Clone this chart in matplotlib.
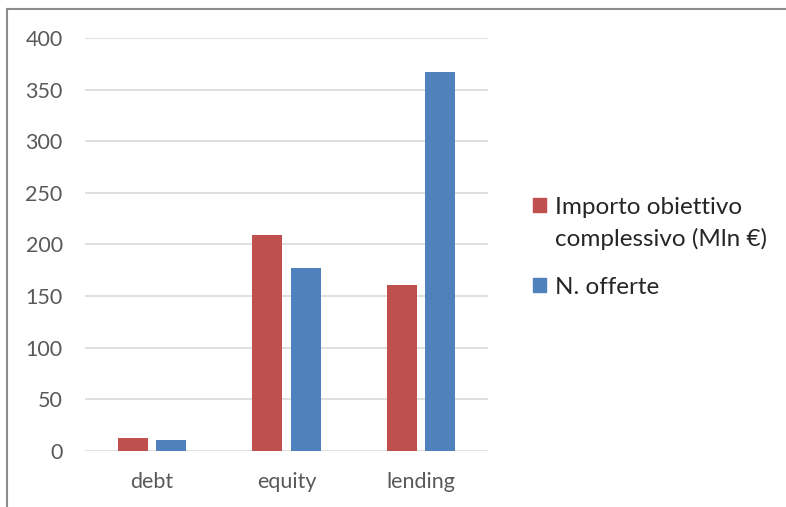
import numpy as np
import matplotlib.pyplot as plt
from matplotlib.lines import Line2D
from matplotlib.patches import Rectangle

categories = ['debt', 'equity', 'lending']
importo = [12.7, 208.8, 160.7]
offerte = [10.2, 176.8, 367.4]
labels = [['Importo obiettivo', 'complessivo (Mln €)'], ['N. offerte']]
colors = ['#c0504d', '#4f81bd']

plt.rcParams['font.family'] = ['Lato', 'DejaVu Sans']

W, H = 786, 507
fig = plt.figure(figsize=(W / 100, H / 100), dpi=100)
ax = fig.add_axes([0.108, 0.111, 0.513, 0.814])

x = np.arange(len(categories))
w = 0.224
ax.bar(x - 0.03 - w / 2, importo, width=w, color=colors[0], zorder=3)
ax.bar(x + 0.03 + w / 2, offerte, width=w, color=colors[1], zorder=3)

ax.set_xlim(-0.5, 2.5)
ax.set_ylim(0, 400)
ax.set_yticks(range(0, 401, 50))
ax.set_xticks(x)
ax.set_xticklabels(categories)
ax.grid(True, axis='y', color='#d9d9d9', linewidth=1.2, zorder=0)
for s in ax.spines.values():
    s.set_visible(False)
ax.tick_params(length=0, colors='#595959', labelsize=15.5)
ax.tick_params(axis='y', pad=16)
ax.tick_params(axis='x', pad=15)

# legend drawn by hand so the marker sits on the first text line
entry_y = [205, 285]
for lab, c, y0 in zip(labels, colors, entry_y):
    fig.add_artist(Rectangle((533 / W, 1 - (y0 + 7) / H), 13 / W, 14 / H,
                             transform=fig.transFigure, color=c))
    for i, line in enumerate(lab):
        fig.text(555 / W, 1 - (y0 + 32 * i) / H, line, fontsize=17.5,
                 color='#262626', va='center_baseline', ha='left')

# outer frame (top and left visible)
fig.add_artist(Line2D([0.009, 1.0], [0.982, 0.982], color='#8c8c8c', linewidth=1.5))
fig.add_artist(Line2D([0.009, 0.009], [0.0, 0.982], color='#8c8c8c', linewidth=1.5))

fig.savefig('out.png', dpi=100)
